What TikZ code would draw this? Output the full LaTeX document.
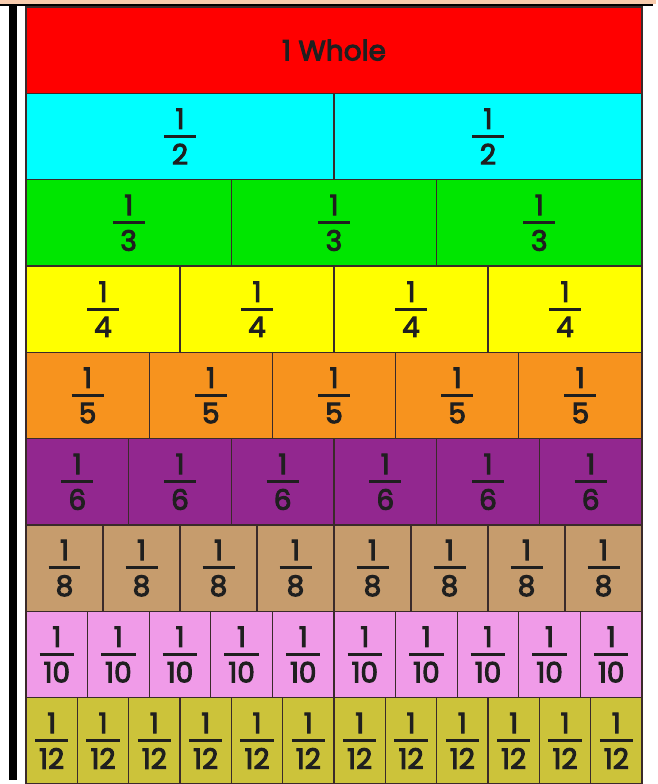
\documentclass[tikz,border=0pt]{standalone}
\usepackage{fontspec}
\setmainfont{Poppins}
\newfontfamily\medfont{Poppins}[FakeBold=3.5]
\definecolor{cRed}{HTML}{FF0000}
\definecolor{cCyan}{HTML}{00FFFF}
\definecolor{cGreen}{HTML}{00E600}
\definecolor{cYellow}{HTML}{FFFF00}
\definecolor{cOrange}{HTML}{F7931E}
\definecolor{cPurple}{HTML}{92278F}
\definecolor{cTan}{HTML}{C69C6D}
\definecolor{cPink}{HTML}{F09BE8}
\definecolor{cOlive}{HTML}{CCC33A}
\definecolor{cPeach}{HTML}{F8CBAD}
\definecolor{cLine}{HTML}{3A2A2A}
\newcommand\fr[1]{%
  \setbox0=\hbox{#1}%
  \dimen0=\dimexpr\wd0+8pt\relax
  \ifdim\dimen0<32pt \dimen0=32pt\fi
  \vbox{\offinterlineskip\halign{\hfil##\hfil\cr 1\cr\noalign{\kern6pt}\rule{\dimen0}{3pt}\cr\noalign{\kern6pt}#1\cr}}}
\tikzset{
  cell/.style={draw=cLine, line width=1.2pt, inner sep=0pt, minimum height=86.333pt,
    text=black!88, font=\medfont\fontsize{28}{30}\selectfont},
}
\begin{document}
\begin{tikzpicture}[x=1pt,y=-1pt]
\useasboundingbox (0,0) rectangle (658,784);
\fill[white] (0,0) rectangle (658,784);
\fill[cPeach] (0,0) rectangle (656,4);
\fill[black] (0,4) rectangle (653,6);
\fill[black] (9,4) rectangle (16.5,780);
\foreach \n/\col [count=\i from 0] in {1/cRed, 2/cCyan, 3/cGreen, 4/cYellow, 5/cOrange, 6/cPurple, 8/cTan, 10/cPink, 12/cOlive} {
  \pgfmathsetmacro\w{616/\n}
  \foreach \j in {1,...,\n} {
    \node[cell, fill=\col, minimum width=\w pt] (r\i c\j) at ({26+(\j-0.5)*\w}, {7+(\i+0.5)*86.333}) {\ifnum\n=1 1 Whole\else\fr{\n}\fi};
  }
}
\end{tikzpicture}
\end{document}
